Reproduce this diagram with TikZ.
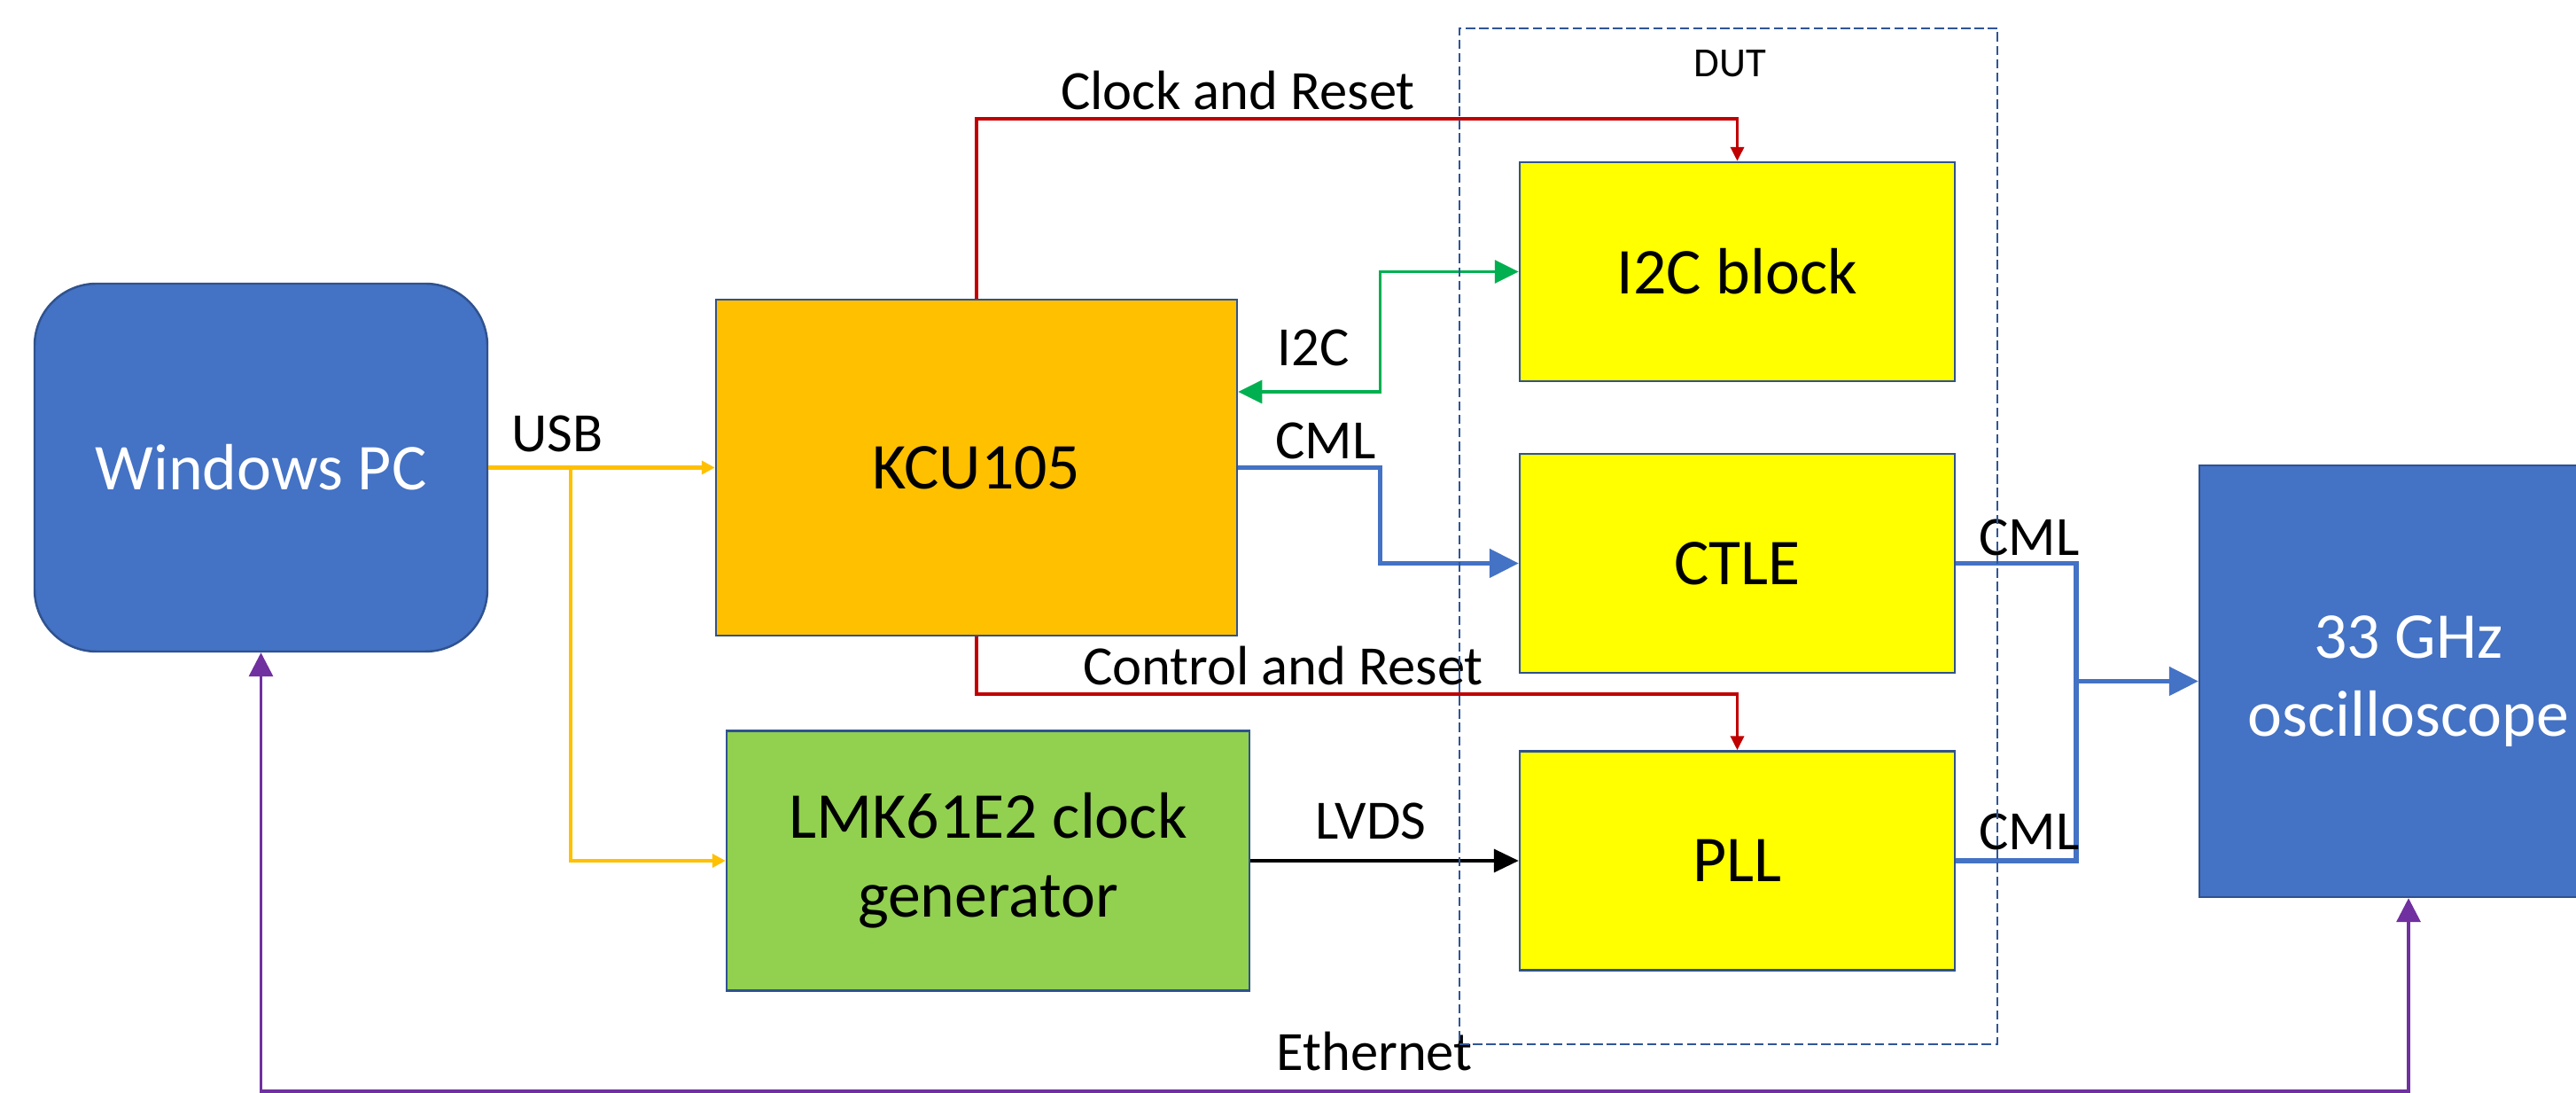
\documentclass[tikz,border=0pt]{standalone}
\usepackage{fontspec}
\setmainfont{Carlito}
\usepackage{tikz}
\usetikzlibrary{arrows.meta,positioning}
\definecolor{tbblue}{HTML}{4472C4}
\definecolor{tbedge}{HTML}{2F528F}
\definecolor{tborange}{HTML}{FFC000}
\definecolor{tblime}{HTML}{92D050}
\definecolor{tbyel}{HTML}{FFFF00}
\definecolor{tbred}{HTML}{C00000}
\definecolor{tbgreen}{HTML}{00B050}
\definecolor{tbpurple}{HTML}{7030A0}
\definecolor{tbdash}{HTML}{2F5597}
\tikzset{
  unit/.style={draw=tbedge,line width=0.7pt,inner sep=0pt,align=center,
              font=\fontsize{21}{25.3}\selectfont,text=black},
  pcbox/.style={unit,fill=tbblue,text=white,rounded corners=0.7cm,
              minimum width=5.11cm,minimum height=4.15cm},
  fpgabox/.style={unit,fill=tborange,minimum width=5.88cm,minimum height=3.79cm},
  clkbox/.style={unit,fill=tblime,minimum width=5.90cm,minimum height=2.93cm},
  chipbox/.style={unit,fill=tbyel,minimum width=4.91cm,minimum height=2.47cm},
  scopebox/.style={unit,fill=tbblue,text=white,minimum width=4.72cm,minimum height=4.87cm},
  dutframe/.style={draw=tbdash,line width=0.6pt,dash pattern=on 3pt off 1.3pt,
              minimum width=6.07cm,minimum height=11.46cm},
  lbl/.style={font=\fontsize{17.8}{21}\selectfont,anchor=base,inner sep=0pt},
  usbline/.style={-{Triangle[length=1.5mm,width=1.5mm]},line width=1.2pt,draw=tborange},
  rstline/.style={-{Triangle[length=1.6mm,width=1.5mm]},line width=1pt,draw=tbred},
  i2cline/.style={{Triangle[length=2.7mm,width=2.6mm]}-{Triangle[length=2.7mm,width=2.6mm]},
              line width=0.9pt,draw=tbgreen},
  cmlline/.style={line width=1.5pt,draw=tbblue},
  cmlarrow/.style={cmlline,-{Triangle[length=3.3mm,width=3.2mm]}},
  lvdsline/.style={-{Triangle[length=2.8mm,width=2.6mm]},line width=1pt,draw=black},
  ethline/.style={{Triangle[length=2.7mm,width=2.7mm]}-{Triangle[length=2.7mm,width=2.7mm]},
              line width=1pt,draw=tbpurple},
}

\begin{document}
\begin{tikzpicture}
  \useasboundingbox (0,0) rectangle (29.07,12.33);

  % ================= boxes =================
  \node[pcbox]   (pc)   at (2.945,7.055)  {Windows PC};
  \node[fpgabox] (kcu)  at (11.02,7.055)  {KCU105};
  \node[clkbox]  (lmk)  at (11.15,2.62)   {LMK61E2 clock\\generator};
  \node[chipbox] (i2c)  at (19.605,9.265) {I2C block};
  \node[chipbox] (ctle) at (19.605,5.975) {CTLE};
  \node[chipbox] (pll)  at (19.605,2.62)  {PLL};
  \node[scopebox] (osc) at (27.18,4.645)  {33 GHz\\oscilloscope};

  % ================= connectors =================
  \coordinate (usbj) at (6.44,7.055);
  \draw[usbline] (pc.east) -- (kcu.west);
  \draw[usbline] (usbj) |- (lmk.west);
  \draw[rstline] (kcu.north) -- ++(0,2.03) -| (i2c.north);
  \draw[rstline] (kcu.south) -- ++(0,-0.65) -| (pll.north);
  \draw[i2cline] ([yshift=0.855cm]kcu.east) -- ++(1.6,0) |- (i2c.west);
  \draw[cmlarrow] (kcu.east) -- ++(1.6,0) |- (ctle.west);
  \coordinate (cmlj) at (23.43,4.645);
  \draw[cmlline] (ctle.east) -| (cmlj);
  \draw[cmlline] (pll.east) -| (cmlj);
  \draw[cmlarrow] (cmlj) -- (osc.west);
  \draw[lvdsline] (lmk.east) -- (pll.west);
  \draw[ethline] (pc.south) -- ++(0,-4.95) -| (osc.south);

  % ================= labels =================
  \node[lbl] (usblbl)  at (6.29,7.23)   {USB};
  \node[lbl] (clklbl)  at (13.97,11.09) {Clock and Reset};
  \node[lbl] (i2clbl)  at (14.82,8.20)  {I2C};
  \node[lbl] (cmllbla) at (14.96,7.15)  {CML};
  \node[lbl] (cmllblb) at (22.90,6.06)  {CML};
  \node[lbl] (cmllblc) at (22.90,2.745) {CML};
  \node[lbl] (lvdslbl) at (15.47,2.86)  {LVDS};
  \node[lbl] (ctrllbl) at (14.48,4.60)  {Control and Reset};
  \node[lbl] (ethlbl)  at (15.51,0.25)  {Ethernet};

  % DUT frame on top
  \node[dutframe] (dut) at (19.505,6.28) {};
  \node[lbl,font=\fontsize{13.3}{16}\selectfont] (dutlbl) at (19.52,11.46) {DUT};
\end{tikzpicture}
\end{document}
